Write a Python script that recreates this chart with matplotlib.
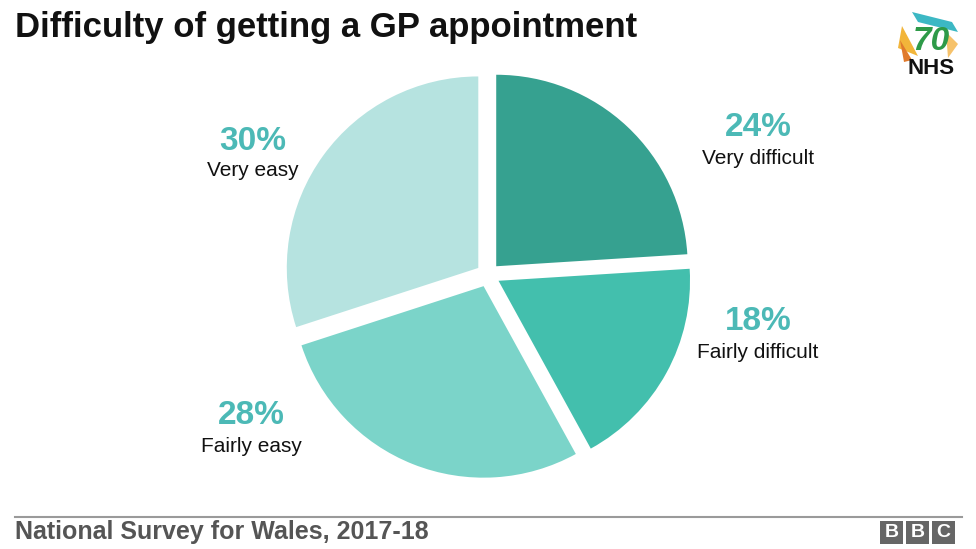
import matplotlib
matplotlib.use("Agg")
import matplotlib.pyplot as plt
from matplotlib.patches import Rectangle, Polygon

plt.rcParams['font.family'] = ['Liberation Sans', 'DejaVu Sans']

# Data
categories = ['Very difficult', 'Fairly difficult', 'Fairly easy', 'Very easy']
shares = [24, 18, 28, 30]
colours = ['#36a190', '#43bfad', '#7bd4c9', '#b6e3e0']
title = 'Difficulty of getting a GP appointment'
source = 'National Survey for Wales, 2017-18'

# label positions (pixels from top-left)
label_pos = [(758, 128), (758, 322), (251, 416), (253, 141)]

W, H = 976, 549
fig = plt.figure(figsize=(W / 100, H / 100), dpi=100)
ax = fig.add_axes([0, 0, 1, 1])

ax.pie(shares, colors=colours, startangle=90, counterclock=False,
       center=(488, H - 275), radius=191.5, explode=[12] * 4,
       wedgeprops=dict(linewidth=0))

ax.set_xlim(0, W)
ax.set_ylim(0, H)
ax.set_aspect('equal')
ax.axis('off')

for (x, y), cat, val in zip(label_pos, categories, shares):
    ax.text(x, H - y, f'{val}%', ha='center', va='center', fontsize=24,
            color='#4cb9b6', fontweight='bold')
    ax.text(x, H - y - 30, cat, ha='center', va='center', fontsize=15,
            color='#111111')

# title
ax.text(15, H - 27, title, ha='left', va='center', fontsize=25,
        fontweight='bold', color='#111111')

# footer
ax.plot([15, 962], [H - 517, H - 517], color='#9a9a9a', lw=1.5)
ax.text(15, H - 532, source, ha='left', va='center', fontsize=18,
        fontweight='bold', color='#555555')

# BBC blocks
for i, letter in enumerate('BBC'):
    x0 = 880 + i * 26
    ax.add_patch(Rectangle((x0, H - 544), 23, 23, color='#666666', lw=0))
    ax.text(x0 + 11.5, H - 532.5, letter, ha='center', va='center',
            fontsize=14, fontweight='bold', color='white')

# NHS 70 badge (rough)
ax.add_patch(Polygon([(912, H - 12), (952, H - 22), (958, H - 32), (918, H - 22)],
                     color='#3cb8c4', lw=0))
ax.add_patch(Polygon([(902, H - 26), (918, H - 56), (898, H - 48)],
                     color='#f2b53a', lw=0))
ax.add_patch(Polygon([(900, H - 40), (912, H - 60), (904, H - 62)],
                     color='#e07a2c', lw=0))
ax.add_patch(Polygon([(946, H - 32), (958, H - 44), (948, H - 58)],
                     color='#f6c26b', lw=0))
ax.text(931, H - 42, '70', ha='center', va='center', fontsize=24,
        fontweight='bold', color='#2e9a48', fontstyle='italic')
ax.text(931, H - 69, 'NHS', ha='center', va='center', fontsize=16,
        fontweight='bold', color='#111111')

fig.savefig('out.png', dpi=100)
